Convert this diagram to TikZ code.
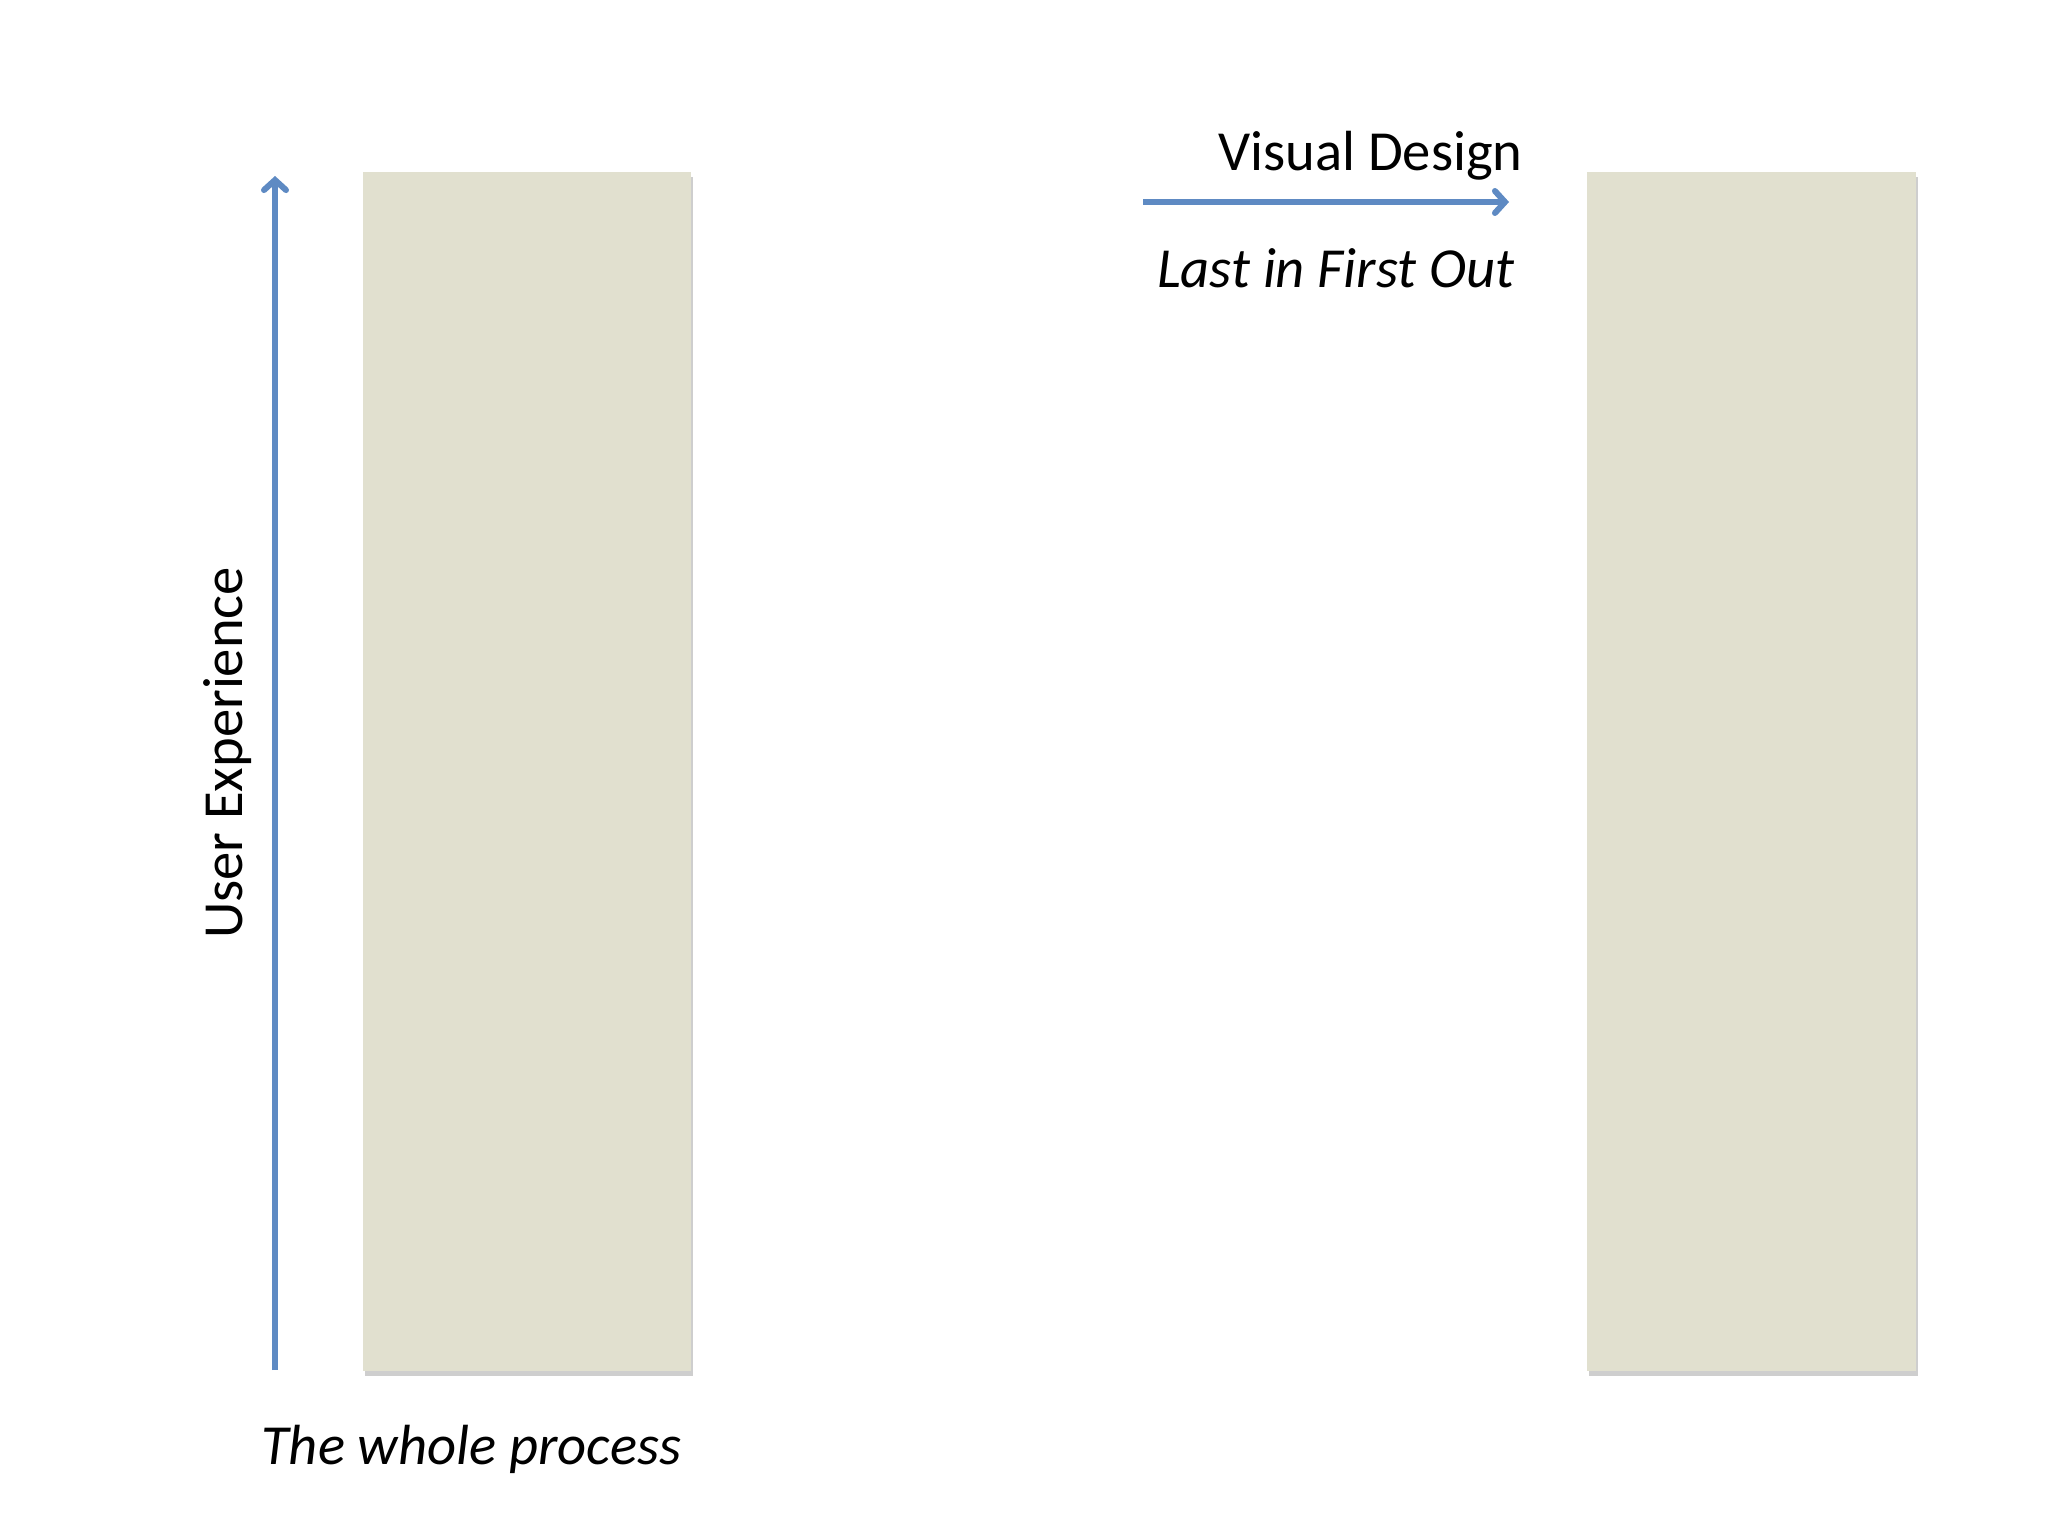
\documentclass[tikz,border=0pt]{standalone}
\usepackage{fontspec}
\setmainfont{Carlito}
\usetikzlibrary{arrows.meta,shadows}
\definecolor{barfill}{RGB}{225,224,207}
\definecolor{arrowblue}{RGB}{94,138,195}
\tikzset{
  bar/.style={fill=barfill, draw=none, drop shadow={shadow xshift=1pt, shadow yshift=-2.5pt, opacity=0.35, fill=black!55}},
  bluearrow/.style={draw=arrowblue, line width=3pt, -{Straight Barb[length=5pt,width=11pt,line cap=round]}},
  lbl/.style={font=\fontsize{28.3}{34}\selectfont, inner sep=0pt, text=black},
}
\begin{document}
\begin{tikzpicture}[x=0.5pt,y=-0.5pt]
\useasboundingbox[fill=white] (0,0) rectangle (2048,1536);
\path[bar] (363,172) rectangle (691,1371);
\path[bar] (1587,172) rectangle (1916,1371);
\coordinate (vbot) at (275,1370);
\coordinate (vtop) at (275,176);
\draw[bluearrow] (vbot) -- (vtop);
\coordinate (hl) at (1143,202);
\coordinate (hr) at (1509,202);
\draw[bluearrow] (hl) -- (hr);
\node[lbl, anchor=base east] (vd) at (1523,170) {Visual Design};
\node[lbl, anchor=base east] (lifo) at (1515,287) {\itshape Last in First Out};
\node[lbl, anchor=base west] (whole) at (261,1464) {\itshape The whole process};
\node[lbl, anchor=base, rotate=90] (ux) at (242,753) {User Experience};
\end{tikzpicture}
\end{document}
